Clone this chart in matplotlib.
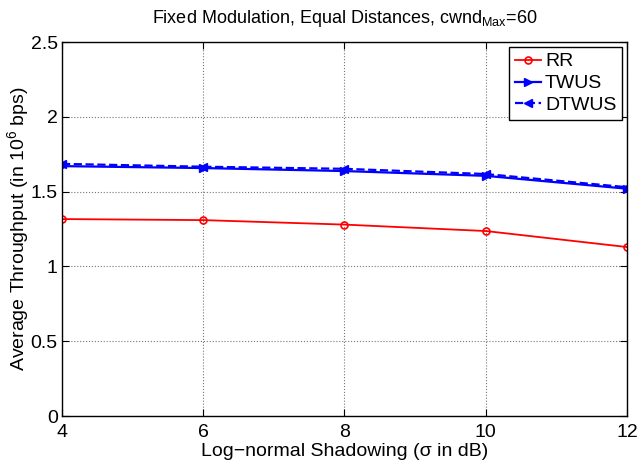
import matplotlib
matplotlib.use("Agg")
import matplotlib.pyplot as plt

shadowing = [4, 6, 8, 10, 12]
rr = [1.317, 1.31, 1.28, 1.237, 1.13]
twus = [1.671, 1.658, 1.638, 1.606, 1.52]
dtwus = [1.686, 1.667, 1.653, 1.618, 1.53]

plt.rcParams['font.family'] = ['Liberation Sans', 'DejaVu Sans']
plt.rcParams['mathtext.fontset'] = 'custom'
plt.rcParams['mathtext.rm'] = 'Liberation Sans'

fig = plt.figure(figsize=(6.37, 4.68), dpi=100)
ax = fig.add_axes([0.0973, 0.111, 0.887, 0.799])

ax.plot(shadowing, rr, color='red', marker='o', markersize=5, markerfacecolor='none',
        markeredgewidth=1.2, linewidth=1.3, label='RR')
ax.plot(shadowing, twus, color='blue', marker='>', markersize=6, linewidth=1.6, label='TWUS')
ax.plot(shadowing, dtwus, color='blue', marker='<', markersize=6, linewidth=1.6,
        linestyle='--', label='DTWUS')

ax.set_xlim(4, 12)
ax.set_ylim(0, 2.5)
ax.set_xticks([4, 6, 8, 10, 12])
ax.set_yticks([0, 0.5, 1, 1.5, 2, 2.5])
ax.set_yticklabels(['0', '0.5', '1', '1.5', '2', '2.5'])
ax.tick_params(direction='in', labelsize=14, length=5, top=True, right=True)
ax.tick_params(axis='x', pad=6)
ax.tick_params(axis='y', pad=3)
ax.grid(True, linestyle=':', color='#777777', linewidth=0.8)
for s in ax.spines.values():
    s.set_linewidth(1.0)

ax.set_xlabel('Log\u2212normal Shadowing (\u03c3 in dB)', fontsize=14, labelpad=1)
ax.set_ylabel('Average Throughput (in 10$^{6}$ bps)', fontsize=14, labelpad=-1)
ax.set_title('Fixed Modulation, Equal Distances, cwnd$_{\\mathrm{Max}}$=60', fontsize=13, pad=14)

leg = ax.legend(loc='upper right', fontsize=14, fancybox=False, edgecolor='black',
                framealpha=1, handlelength=1.35, borderpad=0.3, labelspacing=0.22,
                handletextpad=0.2, borderaxespad=0.25)
leg.get_frame().set_linewidth(1.0)

fig.savefig('out.png', dpi=100)
